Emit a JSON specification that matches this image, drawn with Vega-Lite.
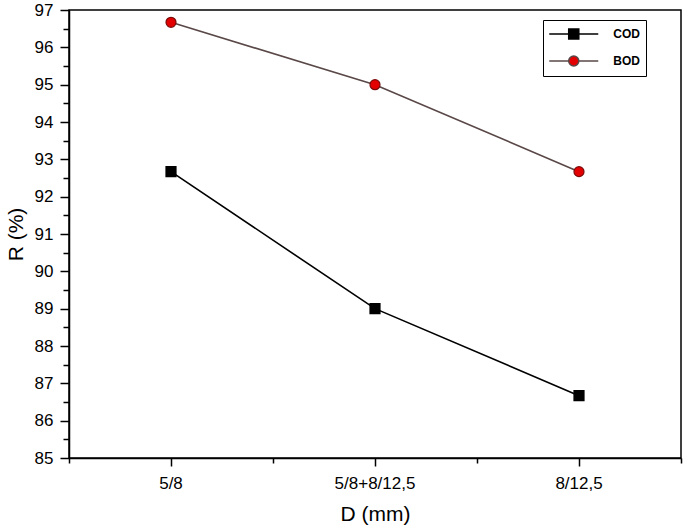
{
  "$schema": "https://vega.github.io/schema/vega-lite/v6.json",
  "width": 612,
  "height": 448,
  "autosize": {"type": "none"},
  "padding": {"left": 69, "top": 10, "right": 4, "bottom": 72},
  "background": "white",
  "config": {
    "view": {"stroke": "black", "strokeWidth": 1.5},
    "font": "Liberation Sans",
    "axis": {
      "grid": false,
      "domainColor": "black",
      "domainWidth": 1.5,
      "tickColor": "black",
      "tickWidth": 1.5,
      "labelColor": "black",
      "titleColor": "black",
      "labelFont": "Liberation Sans",
      "titleFont": "Liberation Sans",
      "titleFontWeight": "normal"
    }
  },
  "data": {
    "values": [
      {"D": "5/8", "param": "COD", "R": 92.67},
      {"D": "5/8+8/12,5", "param": "COD", "R": 89.0},
      {"D": "8/12,5", "param": "COD", "R": 86.67},
      {"D": "5/8", "param": "BOD", "R": 96.67},
      {"D": "5/8+8/12,5", "param": "BOD", "R": 95.0},
      {"D": "8/12,5", "param": "BOD", "R": 92.67}
    ]
  },
  "layer": [
    {
      "mark": {"type": "line", "strokeWidth": 1.6},
      "encoding": {
        "x": {
          "field": "D", "type": "nominal",
          "sort": ["5/8", "5/8+8/12,5", "8/12,5"],
          "scale": {"type": "band", "paddingInner": 0, "paddingOuter": 0},
          "axis": {
            "labelAngle": 0, "tickSize": 8, "labelPadding": 9, "labelFontSize": 17,
            "title": "D (mm)", "titleFontSize": 21, "titlePadding": 12
          }
        },
        "y": {
          "field": "R", "type": "quantitative",
          "scale": {"domain": [85, 97], "nice": false, "zero": false},
          "axis": {
            "values": [85, 86, 87, 88, 89, 90, 91, 92, 93, 94, 95, 96, 97],
            "format": "d",
            "labelOverlap": false,
            "tickSize": 9, "labelPadding": 7, "labelFontSize": 17,
            "title": "R (%)", "titleFontSize": 21, "titlePadding": 8
          }
        },
        "color": {
          "field": "param", "type": "nominal",
          "scale": {"domain": ["COD", "BOD"], "range": ["#000000", "#5a4848"]},
          "legend": {
            "orient": "none", "legendX": 474, "legendY": 10,
            "title": null,
            "strokeColor": "black", "fillColor": "white",
            "padding": 6,
            "rowPadding": 9,
            "labelFont": "Liberation Sans", "labelFontSize": 12, "labelFontWeight": "bold", "labelColor": "black",
            "labelExpr": "datum.label + '\u00a0\u00a0\u00a0\u00a0\u00a0\u00a0\u00a0\u00a0\u00a0\u00a0\u00a0'",
            "symbolSize": 196,
            "symbolOffset": 16.75,
            "labelOffset": 31.5,
            "symbolStrokeWidth": 1.5,
            "encode": {
              "symbols": {
                "update": {
                  "shape": {"signal": "datum.value === 'COD' ? 'M-3.5,0H3.5M-0.72,-0.72H0.72V0.72H-0.72Z' : 'M-3.5,0H-0.72A0.72,0.72,0,1,0,0.72,0A0.72,0.72,0,1,0,-0.72,0M0.72,0H3.5'"},
                  "fill": {"signal": "datum.value === 'COD' ? '#000000' : '#e30000'"},
                  "stroke": {"signal": "datum.value === 'COD' ? '#000000' : '#6a2020'"},
                  "strokeWidth": {"value": 1.5},
                  "opacity": {"value": 1}
                }
              }
            }
          }
        }
      }
    },
    {
      "transform": [{"filter": "datum.param === 'COD'"}],
      "mark": {"type": "point", "shape": "square", "filled": true, "size": 100, "fill": "#000000", "stroke": "#000000", "strokeWidth": 1.2, "opacity": 1},
      "encoding": {
        "x": {
          "field": "D", "type": "nominal",
          "sort": ["5/8", "5/8+8/12,5", "8/12,5"],
          "axis": {"tickBand": "extent", "labels": false, "title": null, "domain": false, "tickSize": 5, "orient": "bottom"}
        },
        "y": {
          "field": "R", "type": "quantitative",
          "axis": {
            "values": [85.5, 86.5, 87.5, 88.5, 89.5, 90.5, 91.5, 92.5, 93.5, 94.5, 95.5, 96.5],
            "labels": false, "title": null, "domain": false, "tickSize": 6, "orient": "left"
          }
        }
      }
    },
    {
      "transform": [{"filter": "datum.param === 'BOD'"}],
      "mark": {"type": "point", "shape": "circle", "filled": true, "size": 100, "fill": "#e30000", "stroke": "#7a0a0a", "strokeWidth": 1.2, "opacity": 1},
      "encoding": {
        "x": {
          "field": "D", "type": "nominal",
          "sort": ["5/8", "5/8+8/12,5", "8/12,5"],
          "axis": null
        },
        "y": {"field": "R", "type": "quantitative", "axis": null}
      }
    }
  ],
  "resolve": {"axis": {"x": "independent", "y": "independent"}}
}
